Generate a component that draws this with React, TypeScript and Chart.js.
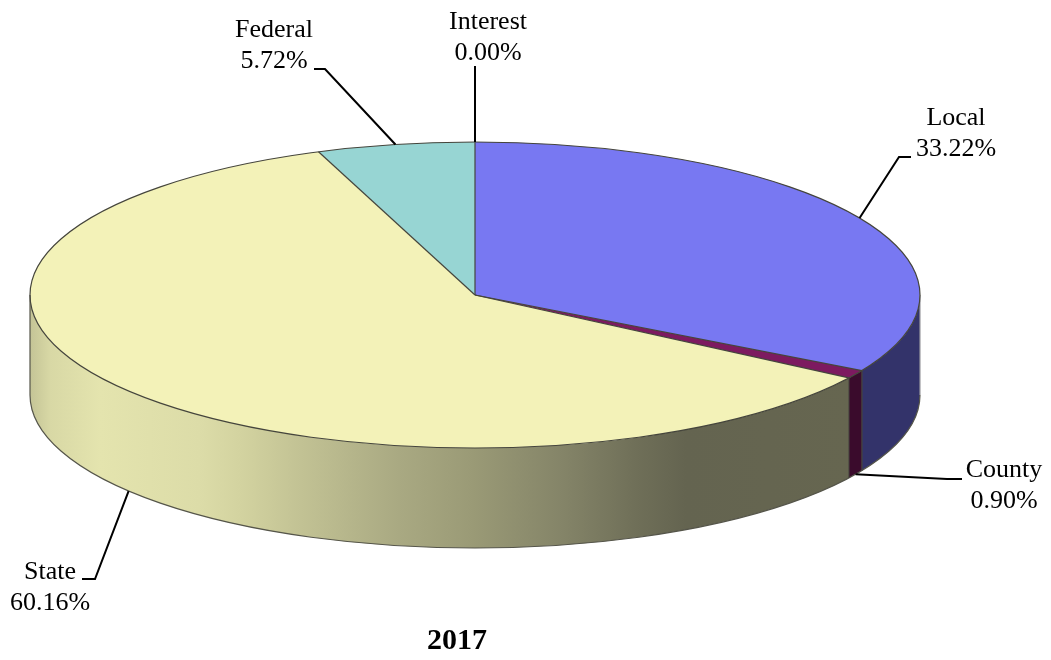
import React, { useEffect, useRef } from "react";
import { Chart, registerables } from "chart.js";

Chart.register(...registerables);

const categories = ["Local", "County", "State", "Federal", "Interest"];
const shares = [33.22, 0.9, 60.16, 5.72, 0.0];
const topColors = ["#7878f2", "#7d1a60", "#f3f2b8", "#97d5d3", "#d0d0d0"];
const wallColors = ["#33336a", "#3a0b2c", "#666650", "#4a6a6a", "#666666"];
const chartTitle = "2017";

// Projection of the disc on the page.
const CX = 475;
const CY = 295;
const RX = 445;
const RY = 153;
const DEPTH = 100;

const FONT = '26px "Liberation Serif", "Times New Roman", serif';
const LINE_HEIGHT = 31;

// Leader routing and text placement for each category.
const labelLayout = [
  { onWall: false, elbow: [899, 157], end: [911, 157], text: [956, 118] },
  { onWall: true, elbow: [947, 479], end: [962, 479], text: [1004, 470] },
  { onWall: true, elbow: [95, 579], end: [82, 579], text: [50, 572] },
  { onWall: false, elbow: [325, 69], end: [314, 69], text: [274, 30] },
  { onWall: false, elbow: null, end: [475, 66], text: [488, 22] },
];

function stateWallGradient(ctx: CanvasRenderingContext2D) {
  const g = ctx.createLinearGradient(CX - RX, 0, 850, 0);
  const stops: [number, string][] = [
    [0, "#c4c496"],
    [0.025, "#d8d8a5"],
    [0.085, "#e4e4ae"],
    [0.207, "#dcdca8"],
    [0.256, "#d3d3a0"],
    [0.33, "#c2c294"],
    [0.45, "#a9a982"],
    [0.54, "#9a9a76"],
    [0.65, "#848468"],
    [0.74, "#6f6f58"],
    [0.8, "#646450"],
    [1, "#666650"],
  ];
  stops.forEach(([o, c]) => g.addColorStop(o, c));
  return g;
}

function wallPath(ctx: CanvasRenderingContext2D, a1: number, a2: number) {
  ctx.beginPath();
  ctx.ellipse(CX, CY, RX, RY, 0, a1, a2, false);
  ctx.ellipse(CX, CY + DEPTH, RX, RY, 0, a2, a1, true);
  ctx.closePath();
}

const piePerspective = {
  id: "piePerspective",
  beforeDatasetsDraw(chart: any) {
    const { ctx } = chart;
    const arcs = chart.getDatasetMeta(0).data;
    arcs.forEach((arc: any, i: number) => {
      // Only the front half of the rim is visible.
      const a1 = Math.max(arc.startAngle, 0);
      const a2 = Math.min(arc.endAngle, Math.PI);
      if (a2 <= a1) return;
      ctx.save();
      wallPath(ctx, a1, a2);
      ctx.fillStyle = categories[i] === "State" ? stateWallGradient(ctx) : wallColors[i];
      ctx.fill();
      ctx.restore();
    });

    const arc = arcs[0];
    ctx.save();
    ctx.translate(CX, CY);
    ctx.scale(RX / arc.outerRadius, RY / arc.outerRadius);
    ctx.translate(-arc.x, -arc.y);
  },
  afterDatasetsDraw(chart: any) {
    const { ctx } = chart;
    ctx.restore();
    const arcs = chart.getDatasetMeta(0).data;

    // Rim outlines
    ctx.save();
    ctx.strokeStyle = "#55554a";
    ctx.lineWidth = 1.2;
    ctx.beginPath();
    ctx.ellipse(CX, CY + DEPTH, RX, RY, 0, 0, Math.PI);
    ctx.stroke();
    ctx.beginPath();
    ctx.moveTo(CX - RX, CY);
    ctx.lineTo(CX - RX, CY + DEPTH);
    ctx.stroke();
    ctx.strokeStyle = "#9a9aa0";
    ctx.beginPath();
    ctx.moveTo(CX + RX, CY);
    ctx.lineTo(CX + RX, CY + DEPTH);
    ctx.stroke();

    // Top face outline and slice edges
    ctx.strokeStyle = "#45453c";
    ctx.beginPath();
    ctx.ellipse(CX, CY, RX, RY, 0, 0, Math.PI * 2);
    ctx.stroke();
    arcs.forEach((arc: any, i: number) => {
      if (shares[i] === 0) return;
      const x = CX + RX * Math.cos(arc.startAngle);
      const y = CY + RY * Math.sin(arc.startAngle);
      ctx.beginPath();
      ctx.moveTo(CX, CY);
      ctx.lineTo(x, y);
      ctx.stroke();
      if (Math.sin(arc.startAngle) > 0) {
        ctx.beginPath();
        ctx.moveTo(x, y);
        ctx.lineTo(x, y + DEPTH);
        ctx.stroke();
      }
    });
    ctx.restore();

    // Leaders and their text
    ctx.save();
    ctx.font = FONT;
    ctx.fillStyle = "#000";
    ctx.textAlign = "center";
    ctx.textBaseline = "middle";
    ctx.strokeStyle = "#000";
    ctx.lineWidth = 2;
    arcs.forEach((arc: any, i: number) => {
      const layout = labelLayout[i];
      const mid = (arc.startAngle + arc.endAngle) / 2;
      const ax = CX + RX * Math.cos(mid);
      const ay = CY + RY * Math.sin(mid) + (layout.onWall ? DEPTH : 0);
      ctx.beginPath();
      ctx.moveTo(ax, ay);
      if (layout.elbow) ctx.lineTo(layout.elbow[0], layout.elbow[1]);
      ctx.lineTo(layout.end[0], layout.end[1]);
      ctx.stroke();
      ctx.fillText(categories[i], layout.text[0], layout.text[1]);
      ctx.fillText(shares[i].toFixed(2) + "%", layout.text[0], layout.text[1] + LINE_HEIGHT);
    });
    ctx.font = 'bold 30px "Liberation Serif", "Times New Roman", serif';
    ctx.fillText(chartTitle, 457, 641);
    ctx.restore();
  },
};

export default function App() {
  const ref = useRef<HTMLCanvasElement>(null);

  useEffect(() => {
    const chart = new Chart(ref.current!, {
      type: "pie",
      data: {
        labels: categories,
        datasets: [
          {
            data: shares,
            backgroundColor: topColors,
            borderWidth: 0,
            clip: false,
          } as any,
        ],
      },
      options: {
        responsive: false,
        animation: false,
        events: [],
        plugins: { legend: { display: false }, tooltip: { enabled: false }, title: { display: false } },
      },
      plugins: [piePerspective],
    });
    return () => chart.destroy();
  }, []);

  return (
    <canvas
      ref={ref}
      width={1051}
      height={660}
      style={{ position: "absolute", left: 0, top: 0, display: "block", background: "#fff" }}
    />
  );
}
